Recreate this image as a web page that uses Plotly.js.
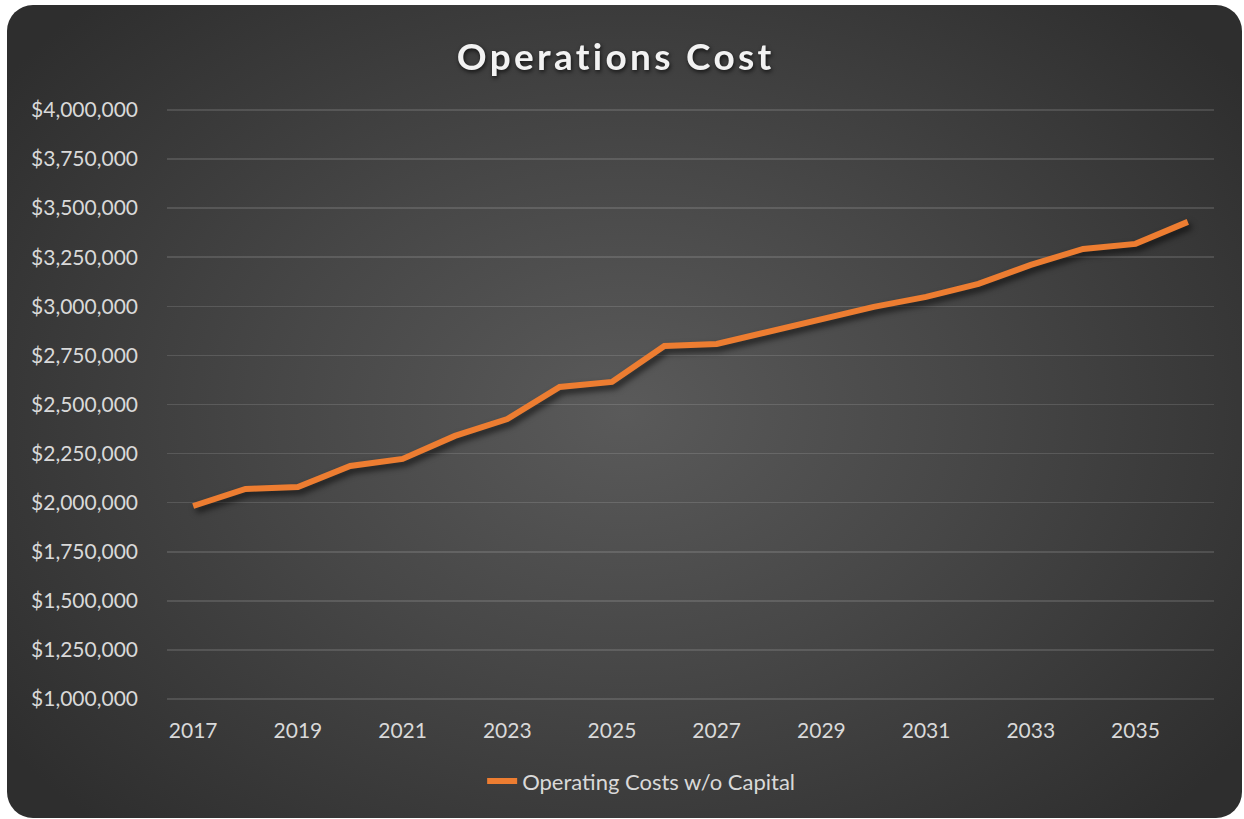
<!DOCTYPE html>
<html>
<head>
<meta charset="utf-8">
<script src="https://cdn.plot.ly/plotly-3.0.1.min.js"></script>
<style>
  html, body { margin: 0; padding: 0; background: #ffffff; }
  #card {
    position: absolute; left: 7px; top: 5px; width: 1235px; height: 813px;
    border-radius: 26px;
    background: radial-gradient(ellipse 62% 70% at 50% 50%, #5a5a5a 0%, #474747 45%, #2e2e2e 100%);
    overflow: hidden;
  }
  #chart { position: absolute; left: 0; top: 0; width: 1244px; height: 819px; }
  .gtitle { letter-spacing: 3.3px; filter: drop-shadow(1px 2px 2px rgba(0,0,0,0.7)); }
  .scatterlayer .js-line { filter: drop-shadow(3px 4px 3px rgba(0,0,0,0.65)); }
</style>
</head>
<body>
<div id="card"></div>
<div id="chart"></div>
<script>
const years = [2017, 2018, 2019, 2020, 2021, 2022, 2023, 2024, 2025, 2026,
               2027, 2028, 2029, 2030, 2031, 2032, 2033, 2034, 2035, 2036];
const operatingCosts = [1983000, 2070000, 2080000, 2187000, 2223000, 2340000, 2426000, 2589000, 2615000, 2798000,
                        2808000, 2870000, 2931000, 2997000, 3048000, 3114000, 3211000, 3292000, 3318000, 3430000];
const yTicks = [1000000, 1250000, 1500000, 1750000, 2000000, 2250000, 2500000,
                2750000, 3000000, 3250000, 3500000, 3750000, 4000000];
const seriesName = 'Operating Costs w/o Capital';
const chartTitle = 'Operations Cost';

const fontFam = 'Lato, "Open Sans", sans-serif';

Plotly.newPlot('chart', [{
  x: years,
  y: operatingCosts,
  type: 'scatter',
  mode: 'lines',
  name: seriesName,
  line: { color: '#ED7D31', width: 6 },
  showlegend: true
}], {
  width: 1244, height: 819,
  paper_bgcolor: 'rgba(0,0,0,0)',
  plot_bgcolor: 'rgba(0,0,0,0)',
  margin: { l: 167, r: 30, t: 108, b: 118 },
  title: {
    text: '<b>' + chartTitle + '</b>',
    font: { family: fontFam, size: 37, color: '#f2f2f2' },
    x: 0.495, xanchor: 'center', y: 0.93, yanchor: 'middle'
  },
  xaxis: {
    range: [2016.5, 2036.5],
    tick0: 2017, dtick: 2,
    showgrid: false, zeroline: false, showline: false,
    ticks: '', ticklabelstandoff: 15,
    tickfont: { family: fontFam, size: 21, color: '#d9d9d9' },
    fixedrange: true
  },
  yaxis: {
    range: [990000, 4010000],
    tickvals: yTicks,
    tickformat: '$,.0f',
    showgrid: true, gridcolor: 'rgba(255,255,255,0.13)', gridwidth: 1.5,
    zeroline: false, showline: false,
    ticks: '', ticklabelstandoff: 28,
    tickfont: { family: fontFam, size: 21, color: '#d9d9d9' },
    fixedrange: true
  },
  legend: {
    orientation: 'h', x: 0.301, xanchor: 'left', y: -0.1, yanchor: 'top',
    font: { family: fontFam, size: 22, color: '#d9d9d9' },
    bgcolor: 'rgba(0,0,0,0)'
  },
  showlegend: true
}, { displayModeBar: false, staticPlot: true });
</script>
</body>
</html>
